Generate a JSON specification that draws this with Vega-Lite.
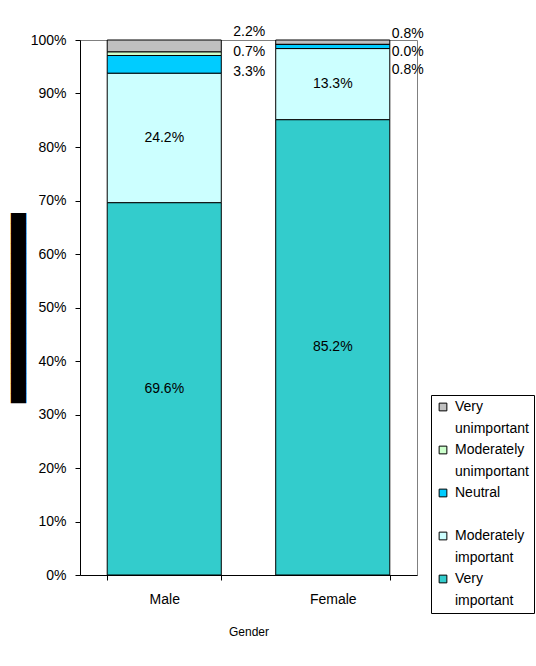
{
  "$schema": "https://vega.github.io/schema/vega-lite/v6.json",
  "width": 337,
  "height": 535,
  "autosize": {"type": "none"},
  "padding": {"left": 80, "top": 40, "right": 119, "bottom": 91},
  "background": "white",
  "config": {
    "view": {"stroke": "#808080", "strokeWidth": 1},
    "font": "Liberation Sans",
    "text": {"font": "Liberation Sans", "fontSize": 14, "color": "black", "baseline": "middle"}
  },
  "data": {
    "values": [
      {"gender": "Male", "category": "Very important", "rank": 1, "value": 0.696},
      {"gender": "Male", "category": "Moderately important", "rank": 2, "value": 0.242},
      {"gender": "Male", "category": "Neutral", "rank": 3, "value": 0.033},
      {"gender": "Male", "category": "Moderately unimportant", "rank": 4, "value": 0.007},
      {"gender": "Male", "category": "Very unimportant", "rank": 5, "value": 0.022},
      {"gender": "Female", "category": "Very important", "rank": 1, "value": 0.852},
      {"gender": "Female", "category": "Moderately important", "rank": 2, "value": 0.133},
      {"gender": "Female", "category": "Neutral", "rank": 3, "value": 0.008},
      {"gender": "Female", "category": "Moderately unimportant", "rank": 4, "value": 0.0},
      {"gender": "Female", "category": "Very unimportant", "rank": 5, "value": 0.008}
    ]
  },
  "encoding": {
    "x": {
      "field": "gender", "type": "nominal", "sort": ["Male", "Female"],
      "scale": {"paddingInner": 0.323, "paddingOuter": 0.1615},
      "axis": {
        "title": "Gender", "labelAngle": 0, "tickBand": "extent", "tickSize": 5,
        "tickColor": "black", "domainColor": "black", "labelFontSize": 14, "labelColor": "black",
        "labelPadding": 12, "titleFontSize": 12, "titleFontWeight": "normal", "titleColor": "black",
        "titlePadding": 20, "labelFont": "Liberation Sans", "titleFont": "Liberation Sans"
      }
    },
    "order": {"field": "rank", "type": "quantitative", "sort": "ascending"}
  },
  "layer": [
    {
      "mark": {"type": "bar", "stroke": "black", "strokeWidth": 1},
      "encoding": {
        "y": {
          "field": "value", "type": "quantitative", "stack": "normalize",
          "scale": {"domain": [0, 1], "nice": false},
          "axis": {
            "title": "███████████████████", "titleFont": "DejaVu Sans", "titleFontSize": 13,
            "titleColor": "black", "titleFontWeight": "normal", "titlePadding": 5,
            "values": [0, 0.1, 0.2, 0.3, 0.4, 0.5, 0.6, 0.7, 0.8, 0.9, 1],
            "format": ".0%", "tickSize": 5, "labelPadding": 9, "labelFontSize": 14,
            "labelColor": "black", "labelFont": "Liberation Sans", "domainColor": "black", "tickColor": "black", "grid": false
          }
        },
        "color": {
          "field": "category", "type": "nominal",
          "scale": {
            "domain": ["Very unimportant", "Moderately unimportant", "Neutral", "Moderately important", "Very important"],
            "range": ["#C0C0C0", "#CCFFCC", "#00CCFF", "#CCFFFF", "#33CCCC"]
          },
          "legend": {
            "title": null, "orient": "none", "legendX": 351, "legendY": 355,
            "symbolType": "square", "symbolSize": 60, "symbolStrokeColor": "black", "symbolStrokeWidth": 1,
            "symbolOpacity": 1, "labelFontSize": 14, "labelFont": "Liberation Sans", "labelColor": "black",
            "labelLimit": 200, "strokeColor": "black", "fillColor": "white", "padding": 5, "rowPadding": 7, "labelOffset": 5,
            "labelExpr": "[split(datum.label, ' ')[0], length(split(datum.label, ' ')) > 1 ? split(datum.label, ' ')[1] : ' ']",
            "encode": {"labels": {"update": {"lineHeight": {"value": 21.5}}}}
          }
        }
      }
    },
    {
      "mark": {"type": "text"},
      "encoding": {
        "y": {"field": "value", "type": "quantitative", "stack": "normalize", "bandPosition": 0.5},
        "text": {"condition": {"test": "datum.value > 0.1", "field": "value", "type": "quantitative", "format": ".1%"}, "value": ""}
      }
    },
    {
      "mark": {"type": "text", "dx": 85, "dy": -8},
      "encoding": {
        "y": {"field": "value", "type": "quantitative", "stack": "normalize", "bandPosition": 1},
        "text": {"condition": {"test": "datum.gender === 'Male' && datum.category === 'Very unimportant'", "field": "value", "type": "quantitative", "format": ".1%"}, "value": ""}
      }
    },
    {
      "mark": {"type": "text", "dx": 85, "dy": 0},
      "encoding": {
        "y": {"field": "value", "type": "quantitative", "stack": "normalize", "bandPosition": 1},
        "text": {"condition": {"test": "datum.gender === 'Male' && datum.category === 'Moderately unimportant'", "field": "value", "type": "quantitative", "format": ".1%"}, "value": ""}
      }
    },
    {
      "mark": {"type": "text", "dx": 85, "dy": 16},
      "encoding": {
        "y": {"field": "value", "type": "quantitative", "stack": "normalize", "bandPosition": 1},
        "text": {"condition": {"test": "datum.gender === 'Male' && datum.category === 'Neutral'", "field": "value", "type": "quantitative", "format": ".1%"}, "value": ""}
      }
    },
    {
      "mark": {"type": "text", "dx": 75, "dy": -6},
      "encoding": {
        "y": {"field": "value", "type": "quantitative", "stack": "normalize", "bandPosition": 1},
        "text": {"condition": {"test": "datum.gender === 'Female' && datum.category === 'Very unimportant'", "field": "value", "type": "quantitative", "format": ".1%"}, "value": ""}
      }
    },
    {
      "mark": {"type": "text", "dx": 75, "dy": 8},
      "encoding": {
        "y": {"field": "value", "type": "quantitative", "stack": "normalize", "bandPosition": 1},
        "text": {"condition": {"test": "datum.gender === 'Female' && datum.category === 'Moderately unimportant'", "field": "value", "type": "quantitative", "format": ".1%"}, "value": ""}
      }
    },
    {
      "mark": {"type": "text", "dx": 75, "dy": 26},
      "encoding": {
        "y": {"field": "value", "type": "quantitative", "stack": "normalize", "bandPosition": 1},
        "text": {"condition": {"test": "datum.gender === 'Female' && datum.category === 'Neutral'", "field": "value", "type": "quantitative", "format": ".1%"}, "value": ""}
      }
    }
  ]
}
